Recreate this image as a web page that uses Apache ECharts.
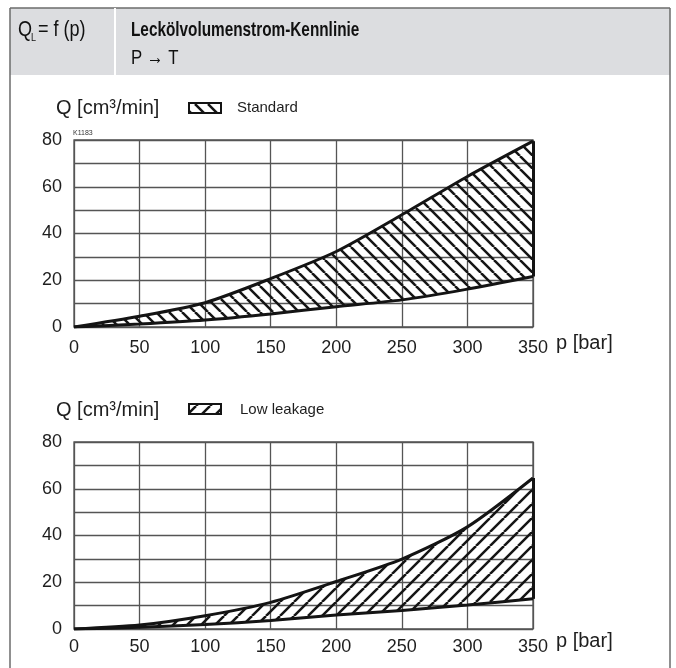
<!DOCTYPE html>
<html><head><meta charset="utf-8">
<script src="https://cdn.jsdelivr.net/npm/echarts@6/dist/echarts.min.js"></script>
<style>html,body{margin:0;padding:0;background:#fff}#c{width:676px;height:668px}</style>
</head><body><div id="c"></div>
<script>
// ---- data ----
const pressure = ['0', '50', '100', '150', '200', '250', '300', '350'];
const standardUpper = [0, 4.6, 10.4, 20.7, 32.3, 48, 64.4, 79.5];
const standardLower = [0, 1.3, 3.0, 5.6, 8.7, 11.6, 16.2, 21.6];
const lowUpper = [0, 1.7, 5.7, 11.4, 20.3, 29.9, 43.7, 64.6];
const lowLower = [0, 0.7, 1.9, 3.6, 6.0, 7.9, 10.3, 12.9];
const yTicks = [0, 20, 40, 60, 80];
const legendNames = ['Standard', 'Low leakage'];
const yName = 'Q [cm³/min]';
const xName = 'p [bar]';

const SANS = "'Liberation Sans',Arial,Helvetica,sans-serif";
const INK = '#141414';

function hatch(dir, s, w) {
  const c = document.createElement('canvas');
  c.width = s; c.height = s;
  const g = c.getContext('2d');
  g.strokeStyle = INK; g.lineWidth = w;
  for (let k = -1; k <= 1; k++) {
    g.beginPath();
    if (dir === 'back') { g.moveTo(k * s, 0); g.lineTo(k * s + s, s); }
    else { g.moveTo(k * s, s); g.lineTo(k * s + s, 0); }
    g.stroke();
  }
  return c;
}
const backHatch = hatch('back', 13, 2.5);
const fwdHatch = hatch('fwd', 14, 2.5);

const grids = [
  { left: 74, top: 140, width: 459, height: 187 },
  { left: 74, top: 442, width: 459, height: 187 }
];
const labelMargins = [12, 9];

function xAxis(i) {
  return {
    gridIndex: i, type: 'category', data: pressure, boundaryGap: false,
    axisLine: { show: false }, axisTick: { show: false },
    splitLine: { show: true, lineStyle: { color: '#555', width: 1.3 } },
    axisLabel: { fontFamily: SANS, fontSize: 18, color: '#1e1e1e', margin: labelMargins[i], interval: 0 }
  };
}
function yAxis(i) {
  return {
    gridIndex: i, type: 'value', min: 0, max: 80, interval: 10,
    axisLine: { show: false }, axisTick: { show: false },
    splitLine: { show: true, lineStyle: { color: '#555', width: 1.3 } },
    axisLabel: { fontFamily: SANS, fontSize: 18, color: '#1e1e1e', margin: 12,
      formatter: v => yTicks.includes(v) ? String(v) : '' }
  };
}

function bandSeries(i, lower, upper, pat) {
  const line = { color: INK, width: 3 };
  const last = pressure.length - 1;
  return [
    { type: 'line', xAxisIndex: i, yAxisIndex: i, stack: 'band' + i, symbol: 'none', smooth: 0.25,
      lineStyle: line, data: lower.slice(), z: 3 },
    { type: 'line', xAxisIndex: i, yAxisIndex: i, stack: 'band' + i, symbol: 'none', smooth: 0.25,
      lineStyle: line, areaStyle: { color: { image: pat, repeat: 'repeat' }, opacity: 1 },
      data: upper.map((u, k) => u - lower[k]), z: 3,
      markLine: { silent: true, symbol: 'none', label: { show: false },
        lineStyle: { color: INK, width: 3, type: 'solid' },
        data: [[{ coord: [pressure[last], lower[last]] }, { coord: [pressure[last], upper[last]] }]] } }
  ];
}

function txt(x, y, text, size, opts = {}, sx) {
  const el = { type: 'text', x, y, silent: true, style: Object.assign({
    text, fontSize: size, fontFamily: SANS, fill: '#1e1e1e', verticalAlign: 'middle', align: 'left'
  }, opts) };
  if (sx) el.scaleX = sx;
  return el;
}

const graphic = [
  { type: 'rect', shape: { x: 10, y: 8, width: 660, height: 67 }, style: { fill: '#dcdde0' }, silent: true },
  { type: 'line', shape: { x1: 10, y1: 8, x2: 670, y2: 8 }, style: { stroke: '#6b6b6b', lineWidth: 1.5 } },
  { type: 'line', shape: { x1: 10, y1: 8, x2: 10, y2: 668 }, style: { stroke: '#6b6b6b', lineWidth: 1.5 } },
  { type: 'line', shape: { x1: 670, y1: 8, x2: 670, y2: 668 }, style: { stroke: '#6b6b6b', lineWidth: 1.5 } },
  { type: 'line', shape: { x1: 115, y1: 8, x2: 115, y2: 75 }, style: { stroke: '#ffffff', lineWidth: 2 } },
  txt(18, 30, 'Q', 22, { fill: '#111' }, 0.82),
  txt(31, 38, 'L', 11, { fill: '#111' }, 0.82),
  txt(38, 30, '= f (p)', 22, { fill: '#111' }, 0.82),
  txt(131, 30, 'Leckölvolumenstrom-Kennlinie', 21, { fontWeight: 'bold', fill: '#111' }, 0.73),
  txt(131, 58, 'P → T', 21, { fill: '#111' }, 0.8),
  // chart 1 legend
  txt(56, 108, yName, 20),
  { type: 'rect', shape: { x: 189, y: 103, width: 32, height: 10 },
    style: { fill: { image: backHatch, repeat: 'repeat' }, stroke: INK, lineWidth: 2 } },
  txt(237, 108, legendNames[0], 15),
  txt(73, 133, 'K1183', 7, { fill: '#333' }),
  txt(556, 343, xName, 20),
  // chart 2 legend
  txt(56, 410, yName, 20),
  { type: 'rect', shape: { x: 189, y: 404, width: 32, height: 10 },
    style: { fill: { image: fwdHatch, repeat: 'repeat' }, stroke: INK, lineWidth: 2 } },
  txt(240, 410, legendNames[1], 15),
  txt(556, 641, xName, 20)
];

const chart = echarts.init(document.getElementById('c'), null, { renderer: 'canvas' });
chart.setOption({
  animation: false,
  backgroundColor: '#fff',
  grid: grids.map(g => Object.assign({ show: true, borderColor: '#555', borderWidth: 1.3, backgroundColor: 'transparent' }, g)),
  xAxis: [xAxis(0), xAxis(1)],
  yAxis: [yAxis(0), yAxis(1)],
  series: [...bandSeries(0, standardLower, standardUpper, backHatch), ...bandSeries(1, lowLower, lowUpper, fwdHatch)],
  graphic
});
</script>
</body></html>
